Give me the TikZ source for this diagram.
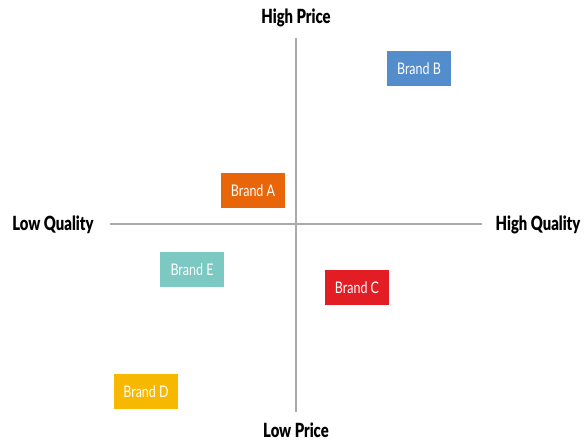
\documentclass[tikz,border=0pt]{standalone}
\usepackage{fontspec}
\setmainfont{Lato}[FakeStretch=0.78]
\newfontfamily\axisfont{Lato}[FakeStretch=0.76,UprightFont=* Black]
\definecolor{cB}{RGB}{84,141,204}
\definecolor{cA}{RGB}{232,101,10}
\definecolor{cE}{RGB}{124,200,194}
\definecolor{cC}{RGB}{226,30,36}
\definecolor{cD}{RGB}{248,184,0}
\definecolor{axisgray}{RGB}{170,170,170}
\begin{document}
\begin{tikzpicture}[x=1pt,y=-1pt,
  brand/.style={fill=#1,text=white,minimum width=64pt,minimum height=35pt,inner sep=0pt,font=\fontsize{16}{16}\selectfont},
  axlabel/.style={font=\axisfont\fontsize{19.5}{19.5}\selectfont,text=black,inner sep=0pt},
  axline/.style={draw=axisgray,line width=1.4pt}]
\useasboundingbox (0,0) rectangle (584,441);
\node[axlabel] (hp) at (296,18) {High Price};
\node[axlabel] (lp) at (296,430.5) {Low Price};
\node[axlabel] (lq) at (53,224.5) {Low Quality};
\node[axlabel] (hq) at (538,224.5) {High Quality};
\coordinate (vt) at (296,38);
\coordinate (vb) at (296,412);
\coordinate (hl) at (110,224);
\coordinate (hr) at (482,224);
\draw[axline] (vt) -- (vb);
\draw[axline] (hl) -- (hr);
\node[brand=cB] (b) at (419,69) {Brand B};
\node[brand=cA] (a) at (253,190.5) {Brand A};
\node[brand=cE] (e) at (192,269.5) {Brand E};
\node[brand=cC] (c) at (357,287.5) {Brand C};
\node[brand=cD] (d) at (146,391.5) {Brand D};
\end{tikzpicture}
\end{document}
